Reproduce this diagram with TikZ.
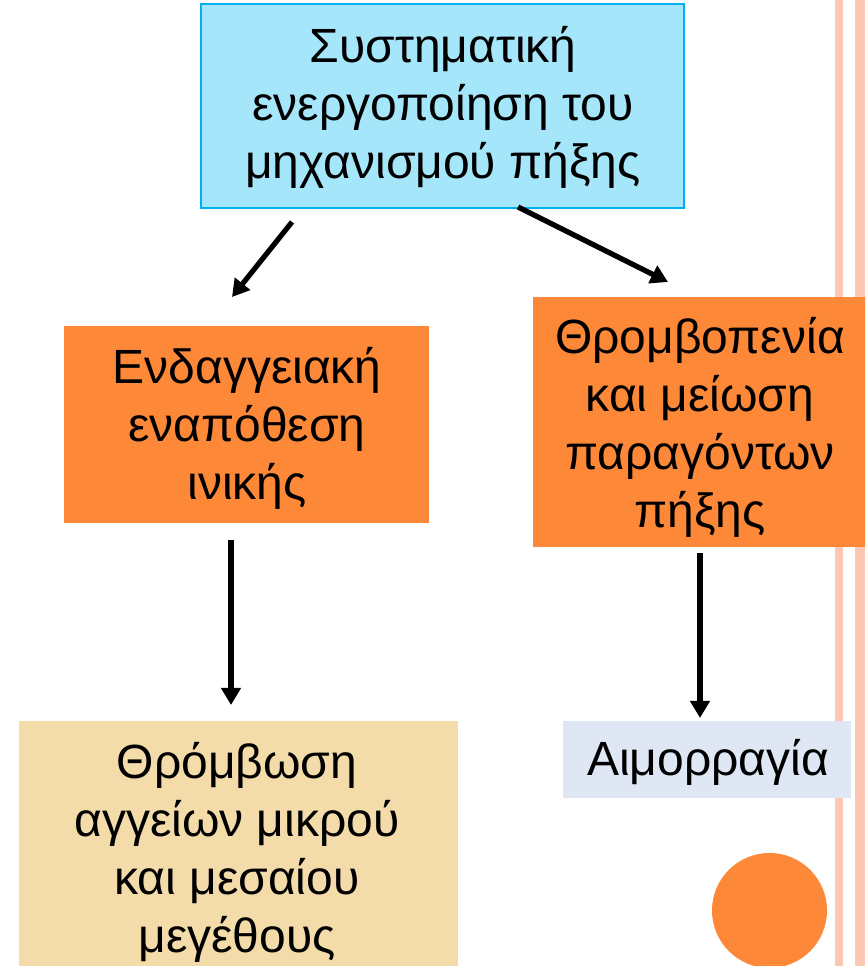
\documentclass[tikz,border=0pt]{standalone}
\usepackage{fontspec}
\setmainfont{Liberation Sans}
\usetikzlibrary{arrows.meta}
\definecolor{topfill}{RGB}{166,230,251}
\definecolor{topline}{RGB}{0,176,240}
\definecolor{orangebox}{RGB}{253,136,56}
\definecolor{beige}{RGB}{243,219,170}
\definecolor{paleblue}{RGB}{223,231,245}
\definecolor{stripe}{RGB}{252,200,180}
\tikzset{
  txt/.style={align=center, inner sep=0pt, font=\fontsize{48}{58}\selectfont},
  arr/.style={line width=5.2pt, -{Triangle[length=17pt,width=19pt]}},
}
\begin{document}
\begin{tikzpicture}[x=1pt,y=1pt]
\useasboundingbox (0,0) rectangle (865,966);
\clip (0,0) rectangle (865,966);
% stripes
\fill[stripe] (835,0) rectangle (843,966);
\fill[stripe] (855,0) rectangle (865,966);
% boxes
\fill[topfill] (200,757) rectangle (685,963);
\draw[topline, line width=2.4pt] (201,758) rectangle (684,962);
\fill[orangebox] (64,443) rectangle (429,640);
\fill[orangebox] (533,419) rectangle (866,669);
\fill[paleblue] (563,168) rectangle (851,245);
\fill[beige] (19,-10) rectangle (458,245);
\fill[orangebox] (769.5,55.5) circle (57.5);
% texts
\node[txt] (top) at (443,859) {Συστηματική\\ενεργοποίηση του\\μηχανισμού πήξης};
\node[txt] (left) at (247,538) {Ενδαγγειακή\\εναπόθεση\\ινικής};
\node[txt] (right) at (700,539) {Θρομβοπενία\\και μείωση\\παραγόντων\\πήξης};
\node[txt] (bleed) at (708,204) {Αιμορραγία};
\node[txt] (thromb) at (237,114) {Θρόμβωση\\αγγείων μικρού\\και μεσαίου\\μεγέθους};
% arrows
\coordinate (a1s) at (292,744); \coordinate (a1e) at (232,669);
\coordinate (a2s) at (518,759); \coordinate (a2e) at (668,684);
\coordinate (a3s) at (231,426); \coordinate (a3e) at (231,261);
\coordinate (a4s) at (700,413); \coordinate (a4e) at (700,248);
\draw[arr] (a1s) -- (a1e);
\draw[arr] (a2s) -- (a2e);
\draw[arr] (a3s) -- (a3e);
\draw[arr] (a4s) -- (a4e);
\end{tikzpicture}
\end{document}
